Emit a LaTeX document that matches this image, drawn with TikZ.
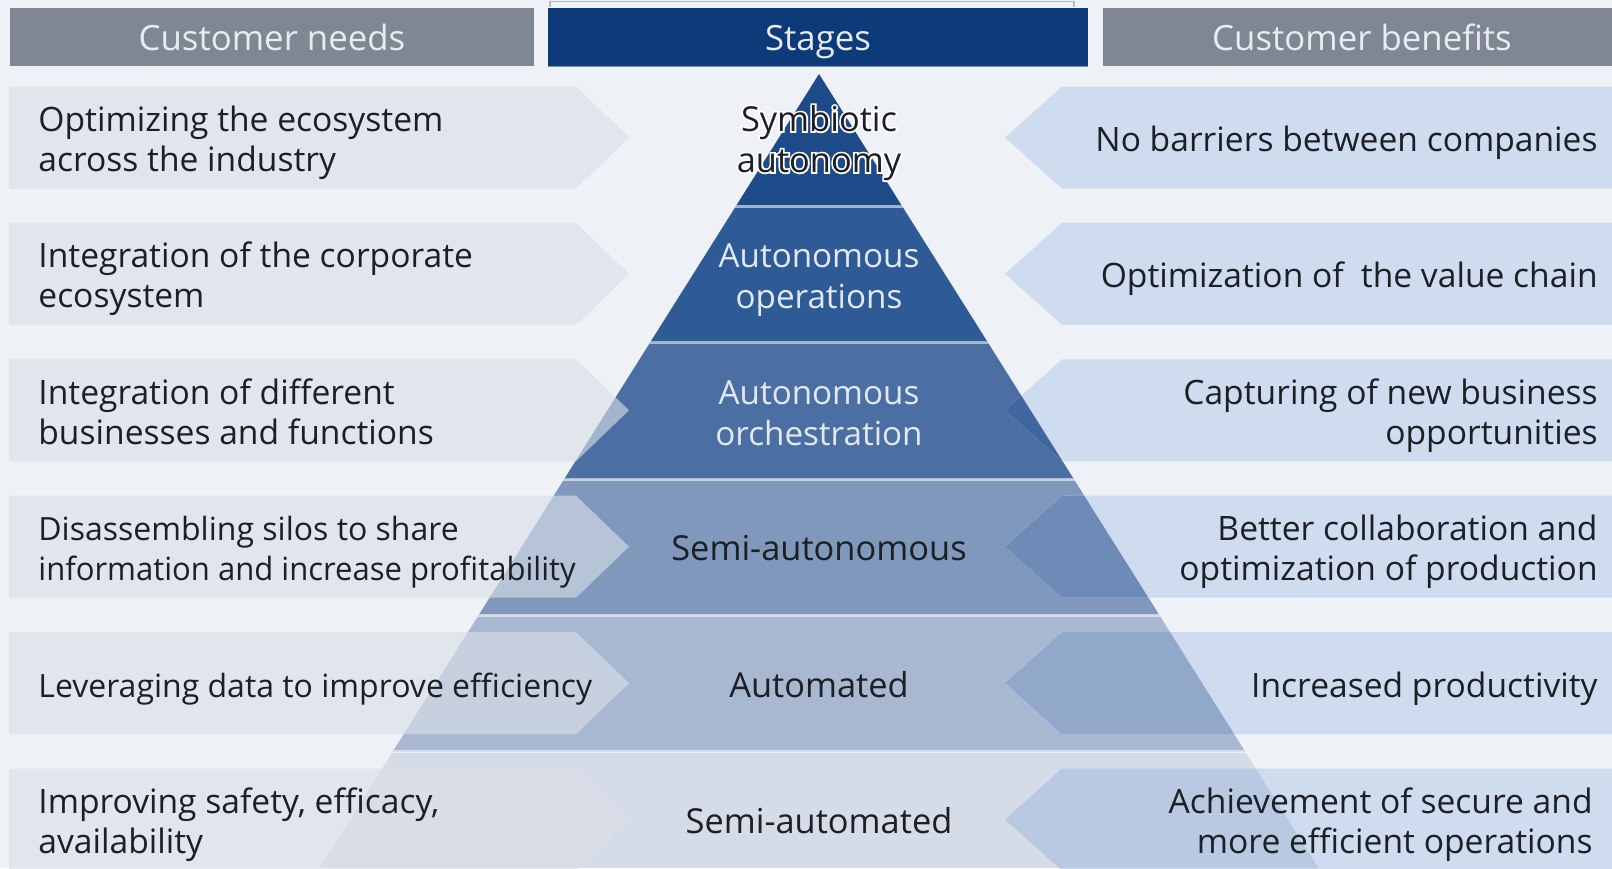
\documentclass[tikz,border=0pt]{standalone}
\usepackage{fontspec}
\setmainfont{Open Sans}
\newfontfamily\halofont[FakeBold=10]{Open Sans}
\definecolor{bg}{HTML}{EEF1F5}
\definecolor{hdrgray}{HTML}{7E8792}
\definecolor{hdrblue}{HTML}{0D3A78}
\definecolor{hdrtext}{HTML}{E8ECF2}
\definecolor{Lone}{RGB}{29,74,137}
\definecolor{Ltwo}{RGB}{46,90,150}
\definecolor{Lthree}{RGB}{75,111,162}
\definecolor{Lfour}{RGB}{127,152,188}
\definecolor{Lfive}{RGB}{168,184,208}
\definecolor{Lsix}{RGB}{213,220,231}
\definecolor{Mone}{RGB}{25,68,134}
\definecolor{Mtwo}{RGB}{40,82,146}
\definecolor{Mthree}{RGB}{65,101,158}
\definecolor{Mfour}{RGB}{110,139,183}
\definecolor{Mfive}{RGB}{146,168,203}
\definecolor{Msix}{RGB}{185,201,225}
\definecolor{larrow}{HTML}{DADFE8}
\definecolor{rarrow}{HTML}{CFDCEF}
\definecolor{darktext}{HTML}{1C1F24}
\definecolor{lighttext}{HTML}{E3E9F3}
\begin{document}
\begin{tikzpicture}[x=0.5pt,y=-0.5pt,
  txt/.style={font=\fontsize{16.8}{20}\selectfont, text=darktext, inner sep=0pt},
  txtsm/.style={font=\fontsize{16}{20}\selectfont},
  ltxt/.style={txt, anchor=west, align=left},
  rtxt/.style={txt, anchor=east, align=right},
  ctxt/.style={txt, align=center, font=\fontsize{17.2}{20.5}\selectfont},
  hdrbox/.style={minimum height=29pt, inner sep=0pt},
  hdrtxt/.style={font=\fontsize{17.4}{21}\selectfont, text=hdrtext, inner sep=0pt},
  pyr/.style={insert path={(819,74) -- (319.6,868) -- (1318.4,868) -- cycle}}
]
\useasboundingbox (0,0) rectangle (1612,868);
\begin{scope}
\clip (0,0) rectangle (1612,868);
\fill[bg] (0,0) rectangle (1612,868);
% thin bracket at top
\draw[gray!55, line width=0.6pt] (550,7) -- (550,1.5) -- (1074,1.5) -- (1074,7);
% pyramid layers
\begin{scope}
  \clip[pyr];
  \fill[Lone]   (0,74)    rectangle (1612,206);
  \fill[Ltwo]   (0,206)   rectangle (1612,342.5);
  \fill[Lthree] (0,342.5) rectangle (1612,479);
  \fill[Lfour]  (0,479)   rectangle (1612,615);
  \fill[Lfive]  (0,615)   rectangle (1612,751.5);
  \fill[Lsix]   (0,751.5) rectangle (1612,868);
  \foreach \b in {206,342.5,479,615,751.5}
    \draw[white, opacity=0.55, line width=1.5pt] (0,\b) -- (1612,\b);
\end{scope}
% left arrows
\foreach \i in {1,...,6} {
  \pgfmathsetmacro\yc{137.5+136.4*(\i-1)}
  \fill[larrow, fill opacity=0.62] (9,{\yc-51}) -- (576,{\yc-51}) -- (629,\yc) -- (576,{\yc+51}) -- (9,{\yc+51}) -- cycle;
}
% right arrows
\foreach \i/\mc in {1/Mone,2/Mtwo,3/Mthree,4/Mfour,5/Mfive,6/Msix} {
  \pgfmathsetmacro\yc{137.5+136.4*(\i-1)}
  \fill[rarrow] (1620,{\yc-51}) -- (1062,{\yc-51}) -- (1005,\yc) -- (1062,{\yc+51}) -- (1620,{\yc+51}) -- cycle;
  \begin{scope}
    \clip[pyr];
    \fill[\mc] (1620,{\yc-51}) -- (1062,{\yc-51}) -- (1005,\yc) -- (1062,{\yc+51}) -- (1620,{\yc+51}) -- cycle;
  \end{scope}
}
% headers
\node[hdrbox, fill=hdrgray, minimum width=262pt] (hneeds) at (272,37) {};
\node[hdrbox, fill=hdrblue, minimum width=270pt] (hstages) at (818,37) {};
\draw[hdrblue!55!white, line width=0.8pt] (hstages.south west) -- (hstages.south east);
\node[hdrbox, fill=hdrgray, minimum width=259pt] (hbenefits) at (1362,37) {};
\node[hdrtxt] (tneeds) at (272,42) {\strut Customer needs};
\node[hdrtxt] (tstages) at (818,42) {\strut Stages};
\node[hdrtxt] (tbenefits) at (1362,42) {\strut Customer benefits};
% left texts
\node[ltxt] (n1) at (38,143.5) {\strut Optimizing the ecosystem\\\strut across the industry};
\node[ltxt] (n2) at (38,279.9) {\strut Integration of the corporate\\\strut ecosystem};
\node[ltxt] (n3) at (38,416.3) {\strut Integration of different\\\strut businesses and functions};
\node[ltxt, txtsm] (n4) at (38,552.7) {\strut Disassembling silos to share\\\strut \scalebox{0.97}[1]{information and increase profitability}};
\node[ltxt, txtsm] (n5) at (38,689.1) {\strut Leveraging data to improve efficiency};
\node[ltxt] (n6) at (38,825.5) {\strut Improving safety, efficacy,\\\strut availability};
% stage texts
\node[ctxt, text=white, font=\halofont\fontsize{17.2}{20.5}\selectfont] (s1h) at (819,143.5) {\strut Symbiotic\\\strut autonomy};
\node[ctxt] (s1) at (819,143.5) {\strut Symbiotic\\\strut autonomy};
\node[ctxt, text=lighttext, font=\fontsize{16.6}{20.5}\selectfont] (s2) at (819,279.9) {\strut Autonomous\\\strut operations};
\node[ctxt, text=lighttext, font=\fontsize{16.6}{20.5}\selectfont] (s3) at (819,416.3) {\strut Autonomous\\\strut orchestration};
\node[ctxt] (s4) at (819,552.7) {\strut Semi-autonomous};
\node[ctxt] (s5) at (819,689.1) {\strut Automated};
\node[ctxt] (s6) at (819,825.5) {\strut Semi-automated};
% right texts
\node[rtxt] (b1) at (1598,143.5) {\strut No barriers between companies};
\node[rtxt] (b2) at (1598,279.9) {\strut Optimization of\hspace{0.25em} the value chain};
\node[rtxt] (b3) at (1598,416.3) {\strut Capturing of new business\\\strut opportunities};
\node[rtxt] (b4) at (1598,552.7) {\strut Better collaboration and\\\strut optimization of production};
\node[rtxt] (b5) at (1598,689.1) {\strut Increased productivity};
\node[rtxt] (b6) at (1593,825.5) {\strut Achievement of secure and\\\strut more efficient operations};
\end{scope}
\end{tikzpicture}
\end{document}
